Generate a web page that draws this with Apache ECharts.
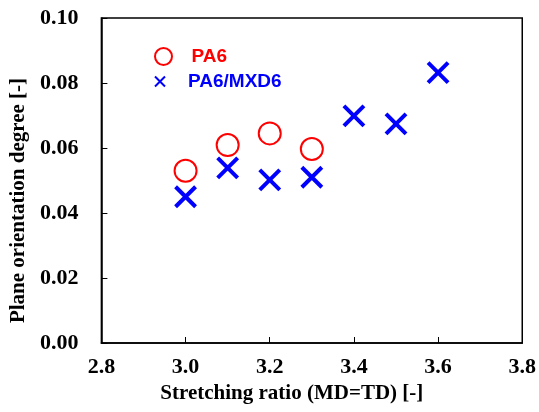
<!DOCTYPE html>
<html>
<head>
<meta charset="utf-8">
<script src="https://cdn.jsdelivr.net/npm/echarts@6/dist/echarts.min.js"></script>
<style>
  html, body { margin: 0; padding: 0; background: #fff; }
  #chart { width: 539px; height: 412px; }
</style>
</head>
<body>
<div id="chart"></div>
<script>
// stretching ratio (MD=TD)
const ratioPA6 = [3.0, 3.1, 3.2, 3.3];
const degreePA6 = [0.0530, 0.0609, 0.0645, 0.0597];
const ratioMXD6 = [3.0, 3.1, 3.2, 3.3, 3.4, 3.5, 3.6];
const degreeMXD6 = [0.0450, 0.0539, 0.0502, 0.0510, 0.0699, 0.0674, 0.0832];

const xTicks = [2.8, 3.0, 3.2, 3.4, 3.6, 3.8];
const yTicks = [0, 0.02, 0.04, 0.06, 0.08, 0.10];

const serif = "'Liberation Serif', 'Times New Roman', serif";
const sans = "'Liberation Sans', Arial, sans-serif";
const crossPath = "path://M0,0L10,10M10,0L0,10";

const chart = echarts.init(document.getElementById("chart"));

chart.setOption({
  animation: false,
  grid: {
    left: 101,
    right: 13,
    top: 18,
    bottom: 69,
    show: true,
    borderColor: "#000",
    borderWidth: 1.5
  },
  legend: [
    {
      data: ["PA6"],
      left: 149,
      top: 42,
      itemWidth: 46,
      itemHeight: 17,
      textStyle: { color: "#ff0000", fontFamily: sans, fontWeight: "bold", fontSize: 19 }
    },
    {
      data: ["PA6/MXD6"],
      left: 149,
      top: 67,
      itemWidth: 46,
      itemHeight: 10,
      textStyle: { color: "#0000ff", fontFamily: sans, fontWeight: "bold", fontSize: 19 }
    }
  ],
  xAxis: {
    type: "value",
    min: xTicks[0],
    max: xTicks[xTicks.length - 1],
    interval: 0.2,
    name: "Stretching ratio (MD=TD) [-]",
    nameLocation: "middle",
    nameGap: 38,
    nameTextStyle: {
      fontFamily: serif, fontWeight: "bold", fontSize: 21, color: "#000",
      padding: [0, 40, 0, 0]
    },
    axisLine: { lineStyle: { color: "#000", width: 1.5 } },
    axisTick: { inside: true, length: 6, lineStyle: { color: "#000" } },
    axisLabel: {
      margin: 13,
      fontFamily: serif,
      fontWeight: "bold",
      fontSize: 22,
      color: "#000",
      formatter: v => v.toFixed(1)
    },
    splitLine: { show: false }
  },
  yAxis: {
    type: "value",
    min: yTicks[0],
    max: yTicks[yTicks.length - 1],
    interval: 0.02,
    name: "Plane orientation degree [-]",
    nameLocation: "middle",
    nameGap: 72,
    nameRotate: 90,
    nameTextStyle: {
      fontFamily: serif, fontWeight: "bold", fontSize: 21, color: "#000",
      padding: [0, 40, 0, 0]
    },
    axisLine: { lineStyle: { color: "#000", width: 1.5 } },
    axisTick: { inside: true, length: 6, lineStyle: { color: "#000" } },
    axisLabel: {
      margin: 23,
      fontFamily: serif,
      fontWeight: "bold",
      fontSize: 22,
      color: "#000",
      formatter: v => v.toFixed(2)
    },
    splitLine: { show: false }
  },
  series: [
    {
      name: "PA6",
      type: "scatter",
      symbol: "emptyCircle",
      symbolSize: 22,
      itemStyle: { color: "#ff0000", borderColor: "#ff0000", borderWidth: 3.5, opacity: 1 },
      data: ratioPA6.map((x, i) => [x, degreePA6[i]])
    },
    {
      name: "PA6/MXD6",
      type: "scatter",
      symbol: crossPath,
      symbolSize: 20,
      symbolKeepAspect: true,
      itemStyle: { color: "transparent", borderColor: "#0000ff", borderWidth: 4, opacity: 1 },
      data: ratioMXD6.map((x, i) => [x, degreeMXD6[i]])
    }
  ]
});
</script>
</body>
</html>
